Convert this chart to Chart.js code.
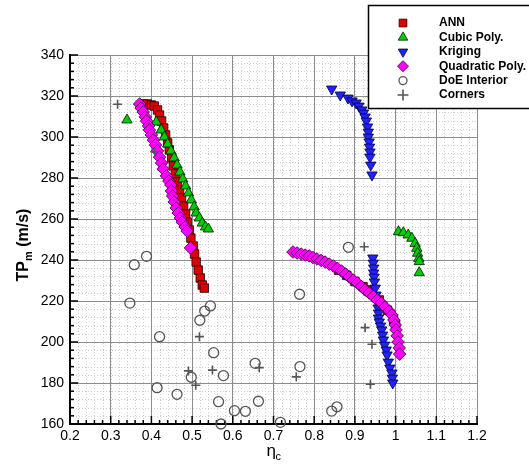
<!DOCTYPE html>
<html>
<head>
<meta charset="utf-8">
<script src="https://cdn.jsdelivr.net/npm/chart.js@4.4.1/dist/chart.umd.min.js"></script>
<style>
  html, body { margin: 0; padding: 0; background: #fff; }
</style>
</head>
<body>
<canvas id="tpChart" width="529" height="465"></canvas>
<script>
// ANN
const annX = [0.380, 0.390, 0.400, 0.407, 0.415, 0.420, 0.425, 0.430, 0.435, 0.440, 0.444, 0.450, 0.454, 0.459, 0.464, 0.469, 0.474, 0.479, 0.484, 0.488, 0.493, 0.497, 0.503, 0.506, 0.510, 0.515, 0.520, 0.525, 0.530,
  0.860, 0.880, 0.900, 0.920, 0.942, 0.960, 0.980, 0.995, 1.000];
const annY = [316.1, 316.1, 315.6, 315.1, 313.2, 310.7, 307.8, 304.4, 301.0, 297.1, 293.7, 289.8, 285.9, 282.0, 278.0, 274.1, 270.2, 266.3, 262.4, 258.5, 254.6, 250.7, 246.8, 242.9, 239.0, 235.1, 231.2, 227.8, 226.3,
  235.0, 232.5, 229.5, 227.0, 225.4, 220.5, 215.5, 211.0, 208.5];

// Cubic Poly.
const cubicX = [0.340, 0.412, 0.424, 0.432, 0.440, 0.448, 0.456, 0.463, 0.470, 0.477, 0.484, 0.491, 0.498, 0.505, 0.510, 0.518, 0.525, 0.533, 0.540,
  1.007, 1.019, 1.031, 1.040, 1.048, 1.052, 1.054, 1.057, 1.058, 1.058];
const cubicY = [308.3, 307.3, 303.4, 300.0, 296.6, 293.2, 289.8, 286.3, 282.9, 279.5, 276.1, 272.7, 269.3, 265.9, 262.9, 260.5, 258.0, 256.1, 255.1,
  253.8, 253.3, 252.2, 250.6, 248.1, 245.7, 243.3, 240.8, 239.2, 233.8];

// Kriging
const krigX = [0.843, 0.864, 0.883, 0.893, 0.903, 0.910, 0.917, 0.921, 0.925, 0.928, 0.931, 0.933, 0.933, 0.935, 0.936, 0.937, 0.937, 0.939, 0.942,
  0.944, 0.945, 0.946, 0.946, 0.947, 0.948, 0.950, 0.952, 0.955, 0.957, 0.958, 0.958, 0.960, 0.963, 0.966, 0.968, 0.970, 0.973, 0.977, 0.979, 0.982, 0.986, 0.991, 0.992, 0.993];
const krigY = [323.4, 320.5, 319.0, 317.6, 316.6, 315.1, 313.2, 311.7, 309.8, 307.8, 304.9, 302.4, 300.0, 297.6, 295.1, 292.7, 290.2, 286.3, 281.5,
  241.0, 238.5, 236.1, 233.7, 231.7, 229.3, 226.3, 222.9, 219.5, 216.6, 214.1, 211.7, 209.8, 207.8, 205.9, 203.4, 201.0, 198.5, 196.1, 193.7, 190.2, 187.3, 184.9, 182.4, 180.0];

// Quadratic Poly.
const quadX = [0.371, 0.375, 0.380, 0.385, 0.388, 0.393, 0.395, 0.400, 0.405, 0.410, 0.415, 0.420, 0.425, 0.429, 0.437, 0.443, 0.448, 0.449, 0.452, 0.456, 0.461, 0.466, 0.471, 0.476, 0.483, 0.488, 0.496,
  0.748, 0.758, 0.768, 0.778, 0.788, 0.797, 0.807, 0.817, 0.827, 0.837, 0.847, 0.857, 0.867, 0.877, 0.886, 0.896, 0.906, 0.916, 0.925, 0.935, 0.945, 0.955, 0.965, 0.974, 0.984, 0.991, 0.996, 0.999, 1.001, 1.004, 1.006, 1.009, 1.010];
const quadY = [316.1, 314.1, 312.2, 309.8, 307.8, 305.4, 303.4, 301.0, 298.5, 296.1, 293.2, 290.2, 287.3, 284.4, 281.0, 278.5, 276.6, 273.7, 271.2, 268.3, 265.4, 262.9, 260.5, 258.5, 256.1, 254.1, 245.9,
  243.9, 243.4, 242.9, 242.4, 242.0, 241.2, 240.5, 239.8, 239.0, 238.0, 237.1, 235.9, 234.6, 233.2, 231.7, 230.2, 228.8, 227.1, 225.4, 223.9, 222.2, 220.5, 219.0, 217.1, 215.1, 213.2, 210.7, 208.3, 205.9, 203.0, 200.0, 197.1, 194.1];

// DoE Interior
const doeX = [0.358, 0.388, 0.347, 0.420, 0.414, 0.463, 0.498, 0.519, 0.545, 0.531, 0.655, 0.553, 0.577, 0.565, 0.571, 0.604, 0.631, 0.663, 0.717, 0.764, 0.765, 0.843, 0.856, 0.884];
const doeY = [237.7, 241.8, 219.0, 202.6, 177.7, 174.5, 182.8, 210.6, 217.6, 215.1, 189.6, 194.8, 183.6, 170.9, 160.0, 166.5, 166.2, 171.1, 160.8, 223.3, 188.0, 166.3, 168.4, 246.2];

// Corners
const cornX = [0.317, 0.408, 0.491, 0.509, 0.518, 0.550, 0.665, 0.756, 0.925, 0.942, 0.938, 0.923];
const cornY = [316.0, 292.8, 185.9, 178.9, 202.6, 186.3, 187.5, 183.0, 207.0, 198.9, 179.4, 246.5];

const xTicks = [0.2, 0.3, 0.4, 0.5, 0.6, 0.7, 0.8, 0.9, 1.0, 1.1, 1.2];
const yTicks = [160, 180, 200, 220, 240, 260, 280, 300, 320, 340];

const pts = (xs, ys) => xs.map((x, i) => ({ x: x, y: ys[i] }));

const series = [
  { label: "ANN", data: pts(annX, annY), pointStyle: "rect", rotation: 0, pointRadius: 6, backgroundColor: "#dd0000", borderColor: "#220000", pointBorderWidth: 0.8, order: 6 },
  { label: "Cubic Poly.", data: pts(cubicX, cubicY), pointStyle: "triangle", rotation: 0, pointRadius: 6, backgroundColor: "#00cc00", borderColor: "#001a00", pointBorderWidth: 0.8, order: 5 },
  { label: "Kriging", data: pts(krigX, krigY), pointStyle: "triangle", rotation: 180, pointRadius: 6, backgroundColor: "#2222ff", borderColor: "#00003a", pointBorderWidth: 0.8, order: 4 },
  { label: "Quadratic Poly.", data: pts(quadX, quadY), pointStyle: "rectRot", rotation: 0, pointRadius: 6.3, backgroundColor: "#ff00ff", borderColor: "#330033", pointBorderWidth: 0.8, order: 3 },
  { label: "DoE Interior", data: pts(doeX, doeY), pointStyle: "circle", rotation: 0, pointRadius: 5, backgroundColor: "rgba(255,255,255,0)", borderColor: "#555555", pointBorderWidth: 1.3, order: 2 },
  { label: "Corners", data: pts(cornX, cornY), pointStyle: "cross", rotation: 0, pointRadius: 4.5, backgroundColor: "#555555", borderColor: "#555555", pointBorderWidth: 1.6, order: 1 },
];

const FONT = "'Liberation Sans', Arial, Helvetica, sans-serif";

// minor grid, inward ticks, axis titles and the boxed legend
const decor = {
  id: "decor",
  beforeDraw(chart) {
    const { ctx, chartArea: a, scales } = chart;
    ctx.save();
    ctx.fillStyle = "#fff";
    ctx.fillRect(0, 0, chart.width, chart.height);
    ctx.strokeStyle = "#cfcfcf";
    ctx.lineWidth = 1;
    ctx.setLineDash([1, 2]);
    for (let v = 0.2; v <= 1.2001; v += 0.02) {
      const px = Math.round(scales.x.getPixelForValue(v)) + 0.5;
      ctx.beginPath(); ctx.moveTo(px, a.top); ctx.lineTo(px, a.bottom); ctx.stroke();
    }
    for (let v = 160; v <= 340; v += 4) {
      const py = Math.round(scales.y.getPixelForValue(v)) + 0.5;
      ctx.beginPath(); ctx.moveTo(a.left, py); ctx.lineTo(a.right, py); ctx.stroke();
    }
    ctx.restore();
  },
  beforeDatasetsDraw(chart) {
    const { ctx, chartArea: a, scales } = chart;
    ctx.save();
    ctx.strokeStyle = "#000";
    ctx.lineWidth = 1.5;
    for (let i = 0; i <= 50; i++) {
      const v = 0.2 + i * 0.02;
      const len = i % 5 === 0 ? 8 : 4;
      const px = scales.x.getPixelForValue(v);
      ctx.beginPath(); ctx.moveTo(px, a.bottom); ctx.lineTo(px, a.bottom - len); ctx.stroke();
    }
    for (let i = 0; i <= 45; i++) {
      const v = 160 + i * 4;
      const len = i % 5 === 0 ? 8 : 4;
      const py = scales.y.getPixelForValue(v);
      ctx.beginPath(); ctx.moveTo(a.left, py); ctx.lineTo(a.left + len, py); ctx.stroke();
    }
    ctx.restore();
  },
  afterDraw(chart) {
    const { ctx, chartArea: a } = chart;
    ctx.save();
    // y title
    ctx.translate(24, 245);
    ctx.rotate(-Math.PI / 2);
    ctx.fillStyle = "#000";
    ctx.textBaseline = "middle";
    ctx.font = "bold 16px " + FONT;
    const w1 = ctx.measureText("TP").width;
    ctx.font = "bold 11px " + FONT;
    const w2 = ctx.measureText("m").width;
    ctx.font = "bold 16px " + FONT;
    const w3 = ctx.measureText(" (m/s)").width;
    let sx = -(w1 + w2 + w3) / 2;
    ctx.textAlign = "left";
    ctx.fillText("TP", sx, 0);
    ctx.font = "bold 11px " + FONT;
    ctx.fillText("m", sx + w1, 5);
    ctx.font = "bold 16px " + FONT;
    ctx.fillText(" (m/s)", sx + w1 + w2, 0);
    ctx.restore();

    // x title
    ctx.save();
    ctx.fillStyle = "#000";
    ctx.textBaseline = "middle";
    ctx.textAlign = "left";
    ctx.font = "17px " + FONT;
    const cx = (a.left + a.right) / 2 - 4;
    ctx.fillText("\u03B7", cx - 3, 451);
    ctx.font = "11px " + FONT;
    ctx.fillText("c", cx + 6, 457);
    ctx.restore();

    // legend box
    ctx.save();
    ctx.fillStyle = "#fff";
    ctx.fillRect(368, 5, 170, 103);
    ctx.strokeStyle = "#000";
    ctx.lineWidth = 1.5;
    ctx.strokeRect(368.5, 5.5, 170, 103);
    ctx.font = "bold 12px " + FONT;
    ctx.textBaseline = "middle";
    ctx.textAlign = "left";
    series.forEach((s, i) => {
      const y = 23 + i * 14.4;
      ctx.fillStyle = s.backgroundColor;
      ctx.strokeStyle = s.borderColor;
      ctx.lineWidth = s.pointBorderWidth;
      Chart.helpers.drawPoint(ctx, { pointStyle: s.pointStyle, rotation: s.rotation, radius: s.pointStyle === "circle" ? 4 : 5.5, borderWidth: s.pointBorderWidth }, 403, y);
      ctx.fillStyle = "#000";
      ctx.fillText(s.label, 439, y);
    });
    ctx.restore();
  },
};

const chart = new Chart(document.getElementById("tpChart"), {
  type: "scatter",
  data: {
    datasets: series.map(s => ({
      label: s.label,
      data: s.data,
      pointStyle: s.pointStyle,
      rotation: s.rotation,
      pointRadius: s.pointRadius,
      pointHoverRadius: s.pointRadius,
      backgroundColor: s.backgroundColor,
      borderColor: s.borderColor,
      pointBorderWidth: s.pointBorderWidth,
      order: s.order,
      clip: false,
    })),
  },
  options: {
    responsive: false,
    animation: false,
    devicePixelRatio: 1,
    layout: { padding: { top: 55, right: 52, left: 0, bottom: 0 } },
    plugins: { legend: { display: false }, tooltip: { enabled: false } },
    scales: {
      x: {
        type: "linear",
        min: 0.2,
        max: 1.2,
        afterBuildTicks: s => { s.ticks = xTicks.map(v => ({ value: v })); },
        afterFit: s => { s.height = 41; },
        ticks: {
          color: "#000",
          font: { family: FONT, size: 14 },
          padding: 4,
          maxRotation: 0,
          callback: v => String(Math.round(v * 10) / 10),
        },
        grid: { color: "#8c8c8c", lineWidth: 1, drawTicks: false },
        border: { color: "#000", width: 2 },
      },
      y: {
        type: "linear",
        min: 160,
        max: 340,
        afterBuildTicks: s => { s.ticks = yTicks.map(v => ({ value: v })); },
        afterFit: s => { s.width = 70; },
        ticks: {
          color: "#000",
          font: { family: FONT, size: 14 },
          padding: 6,
        },
        grid: { color: "#8c8c8c", lineWidth: 1, drawTicks: false },
        border: { color: "#000", width: 2 },
      },
    },
  },
  plugins: [decor],
});
</script>
</body>
</html>
